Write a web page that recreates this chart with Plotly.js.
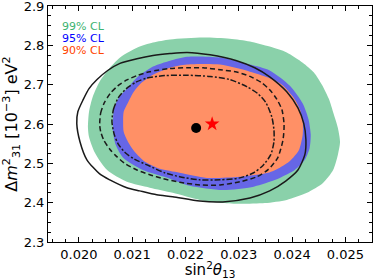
<!DOCTYPE html>
<html>
<head>
<meta charset="utf-8">
<script src="https://cdn.plot.ly/plotly-3.0.1.min.js"></script>
<style>html,body{margin:0;padding:0;background:#fff;}#chart{width:374px;height:280px;}</style>
</head>
<body>
<div id="chart"></div>
<script>
// 99% CL region (filled)
const cl99X = [0.02017,0.02019,0.02026,0.02039,0.02058,0.02079,0.02109,0.02139,0.02171,0.02233,0.02283,0.02321,0.02358,0.02390,0.02420,0.02441,0.02456,0.02469,0.02478,0.02486,0.02490,0.02486,0.02477,0.02458,0.02428,0.02390,0.02349,0.02302,0.02270,0.02227,0.02176,0.02133,0.02090,0.02053,0.02030,0.02019,0.02017];
const cl99Y = [2.590,2.631,2.669,2.708,2.743,2.771,2.794,2.807,2.815,2.820,2.817,2.810,2.797,2.782,2.756,2.731,2.700,2.664,2.626,2.590,2.555,2.522,2.483,2.450,2.425,2.407,2.399,2.397,2.399,2.407,2.425,2.438,2.453,2.483,2.527,2.567,2.590];
// 95% CL region (filled)
const cl95X = [0.02064,0.02066,0.02075,0.02092,0.02109,0.02139,0.02171,0.02203,0.02265,0.02321,0.02358,0.02396,0.02420,0.02431,0.02435,0.02433,0.02424,0.02405,0.02377,0.02358,0.02326,0.02270,0.02208,0.02171,0.02120,0.02083,0.02069,0.02064,0.02064];
const cl95Y = [2.606,2.641,2.667,2.692,2.718,2.746,2.761,2.771,2.769,2.751,2.736,2.697,2.652,2.611,2.573,2.539,2.509,2.483,2.463,2.453,2.440,2.432,2.443,2.461,2.483,2.514,2.547,2.580,2.606];
// 90% CL region (filled)
const cl90X = [0.02083,0.02084,0.02092,0.02103,0.02116,0.02139,0.02171,0.02203,0.02265,0.02321,0.02355,0.02381,0.02403,0.02415,0.02420,0.02420,0.02413,0.02396,0.02377,0.02355,0.02302,0.02240,0.02189,0.02152,0.02124,0.02105,0.02092,0.02084,0.02083];
const cl90Y = [2.606,2.631,2.654,2.682,2.703,2.725,2.743,2.751,2.751,2.733,2.718,2.700,2.667,2.636,2.606,2.573,2.534,2.506,2.489,2.476,2.466,2.463,2.476,2.486,2.504,2.529,2.555,2.580,2.606];
// solid contour
const solidX = [0.01996,0.01998,0.02008,0.02019,0.02034,0.02054,0.02077,0.02109,0.02139,0.02171,0.02203,0.02246,0.02296,0.02330,0.02358,0.02390,0.02411,0.02422,0.02426,0.02424,0.02411,0.02388,0.02358,0.02321,0.02270,0.02227,0.02176,0.02146,0.02114,0.02090,0.02058,0.02039,0.02015,0.02002,0.01996];
const solidY = [2.601,2.631,2.662,2.690,2.713,2.736,2.754,2.766,2.774,2.779,2.782,2.776,2.761,2.743,2.720,2.682,2.641,2.601,2.560,2.522,2.483,2.455,2.430,2.412,2.402,2.404,2.415,2.420,2.430,2.438,2.458,2.473,2.509,2.555,2.601];
// dashed contour
const dashX = [0.02039,0.02041,0.02048,0.02059,0.02073,0.02090,0.02109,0.02133,0.02171,0.02203,0.02233,0.02265,0.02296,0.02321,0.02343,0.02358,0.02371,0.02381,0.02385,0.02383,0.02373,0.02355,0.02334,0.02302,0.02265,0.02227,0.02189,0.02158,0.02133,0.02109,0.02086,0.02071,0.02058,0.02047,0.02041,0.02039];
const dashY = [2.598,2.629,2.655,2.678,2.697,2.712,2.723,2.733,2.741,2.743,2.743,2.738,2.732,2.721,2.705,2.687,2.664,2.636,2.598,2.560,2.514,2.484,2.466,2.453,2.445,2.445,2.452,2.461,2.471,2.483,2.500,2.517,2.536,2.558,2.580,2.598];
// dash-dot contour
const dotX = [0.02062,0.02065,0.02074,0.02089,0.02108,0.02128,0.02161,0.02203,0.02246,0.02283,0.02315,0.02336,0.02351,0.02362,0.02366,0.02366,0.02360,0.02345,0.02328,0.02302,0.02265,0.02227,0.02189,0.02161,0.02128,0.02105,0.02086,0.02073,0.02066,0.02062];
const dotY = [2.606,2.638,2.667,2.690,2.707,2.717,2.723,2.724,2.721,2.713,2.695,2.677,2.654,2.618,2.585,2.555,2.522,2.494,2.476,2.463,2.458,2.458,2.466,2.476,2.496,2.510,2.528,2.551,2.575,2.606];
// best fit points
const circleX = [0.02220], circleY = [2.590];
const starX = [0.02250], starY = [2.600];
// tick labels
const xTickVals = [0.020,0.021,0.022,0.023,0.024,0.025];
const xTickText = ['0.020','0.021','0.022','0.023','0.024','0.025'];
const yTickVals = [2.3,2.4,2.5,2.6,2.7,2.8,2.9];
const yTickText = ['2.3','2.4','2.5','2.6','2.7','2.8','2.9'];
// legend labels
const clLabels = ["99% CL", "95% CL", "90% CL"];

const fillTrace = (x, y, c) => ({x, y, type:'scatter', mode:'lines', fill:'toself', fillcolor:c,
  line:{width:0, color:c, shape:'spline', smoothing:0.7}, hoverinfo:'skip', showlegend:false});
const lineTrace = (x, y, dash) => ({x, y, type:'scatter', mode:'lines',
  line:{width:1.5, color:'#1a1a1a', dash, shape:'spline', smoothing:0.7}, hoverinfo:'skip', showlegend:false});

const data = [
  fillTrace(cl99X, cl99Y, 'rgb(138,209,170)'),
  fillTrace(cl95X, cl95Y, 'rgb(102,102,230)'),
  fillTrace(cl90X, cl90Y, 'rgb(255,144,102)'),
  lineTrace(solidX, solidY, 'solid'),
  lineTrace(dashX, dashY, '5px,3px'),
  lineTrace(dotX, dotY, '6px,2px,2px,2px'),
  {x:circleX, y:circleY, type:'scatter', mode:'markers', marker:{symbol:'circle', size:10, color:'black'}, showlegend:false},
  {x:starX, y:starY, type:'scatter', mode:'markers', marker:{symbol:'star', size:11, color:'red'}, showlegend:false}
];

const axisCommon = {
  showgrid:false, zeroline:false, showline:true, linecolor:'black', linewidth:1, mirror:'allticks',
  ticks:'inside', ticklen:5, tickwidth:1, tickcolor:'black', ticklabeloverflow:'allow',
  tickfont:{family:'DejaVu Sans', size:13, color:'black'}
};
const layout = {
  width:374, height:280,
  margin:{l:48, r:2, t:6, b:38},
  paper_bgcolor:'white', plot_bgcolor:'white',
  font:{family:'DejaVu Sans', color:'black'},
  xaxis: Object.assign({}, axisCommon, {
    range:[0.01942, 0.0255], tickmode:'array', tickvals:xTickVals, ticktext:xTickText,
    minor:{tickmode:'linear', dtick:0.00025, tick0:0.020, ticks:'inside', ticklen:3, tickcolor:'black'},
    title:{text:'sin<sup>2</sup><i>θ</i><sub>13</sub>', font:{size:15, family:'DejaVu Sans'}, standoff:3}
  }),
  yaxis: Object.assign({}, axisCommon, {
    range:[2.3, 2.9], tickmode:'array', tickvals:yTickVals, ticktext:yTickText,
    minor:{tickmode:'linear', dtick:0.025, tick0:2.3, ticks:'inside', ticklen:3, tickcolor:'black'},
    title:{text:'Δ<i>m</i><sup>2</sup><sub>31</sub> [10<sup>−3</sup>] eV<sup>2</sup>', font:{size:16, family:'DejaVu Sans'}, standoff:4}
  }),
  annotations: [
    {text:clLabels[0], x:0.037, y:0.913, font:{color:'rgb(60,179,113)'}},
    {text:clLabels[1], x:0.037, y:0.863, font:{color:'rgb(0,0,255)'}},
    {text:clLabels[2], x:0.037, y:0.810, font:{color:'rgb(255,69,0)'}}
  ].map(a => Object.assign({xref:'paper', yref:'paper', xanchor:'left', yanchor:'middle', showarrow:false}, a,
       {font:Object.assign({family:'DejaVu Sans', size:11}, a.font)}))
};
Plotly.newPlot('chart', data, layout, {displayModeBar:false, staticPlot:true});
</script>
</body>
</html>
